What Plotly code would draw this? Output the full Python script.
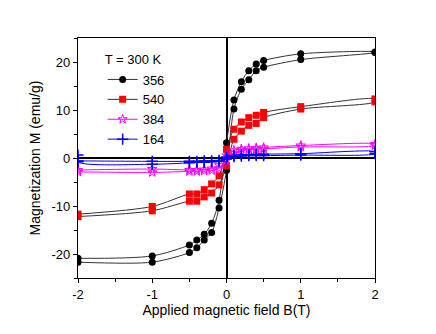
import plotly.graph_objects as go

# Field values: lower branch (ascending -2 -> 2) followed by upper branch (descending 2 -> -2)
B_up = [-2, -1, -0.5, -0.4, -0.3, -0.2, -0.1, 0, 0.1, 0.2, 0.3, 0.4, 0.5, 1, 2]
B_down = [2, 1, 0.5, 0.4, 0.3, 0.2, 0.1, 0, -0.1, -0.2, -0.3, -0.4, -0.5, -1, -2]

# 356 (black circles)
m356_up = [-21.7, -21.7, -19.7, -18.7, -17.1, -15.5, -10.4, -2.6, 10.2, 14.3, 16.3, 18.2, 18.9, 20.5, 22.0]
m356_down = [22.1, 21.7, 20.3, 19.6, 18.2, 15.9, 12.1, 3.2, -8.8, -13.6, -15.9, -17.1, -18.1, -20.4, -20.9]

# 540 (red squares)
m540_up = [-12.2, -11.0, -9.0, -9.0, -8.1, -7.3, -5.6, -1.6, 3.9, 5.6, 6.8, 7.2, 8.4, 10.2, 11.7]
m540_down = [12.3, 10.7, 9.5, 8.9, 8.4, 7.5, 6.0, 1.8, -3.7, -5.4, -6.6, -7.5, -7.5, -10.1, -11.7]

# 384 (magenta stars)
m384_up = [-2.9, -3.0, -2.8, -2.8, -2.7, -2.6, -2.2, -0.5, 1.0, 1.5, 1.7, 1.8, 1.9, 2.3, 2.6]
m384_down = [2.9, 2.6, 2.2, 2.1, 2.0, 1.9, 1.6, 0.5, -1.5, -2.2, -2.4, -2.5, -2.5, -2.3, -2.5]

# 164 (blue crosses); first value is the initial point at -2 T
b164_start = [-2]
m164_start = [0.6]
m164_up = [-0.8, -1.3, -1.0, -0.9, -0.9, -0.8, -0.7, -0.2, 0.3, 0.4, 0.5, 0.5, 0.5, 0.6, 0.9]
m164_down = [1.3, 0.9, 0.8, 0.8, 0.7, 0.7, 0.5, 0.2, -0.5, -0.6, -0.6, -0.7, -0.7, -0.7, -0.6]

x_ticks = [-2, -1, 0, 1, 2]
x_ticktext = ["-2", "-1", "0", "1", "2"]
y_ticks = [-20, -10, 0, 10, 20]
y_ticktext = ["-20", "-10", "0", "10", "20"]

FONT = "Arial, Liberation Sans, sans-serif"

fig = go.Figure()

series = [
    ("356", B_up + B_down, m356_up + m356_down, "#333333",
     dict(symbol="circle", size=7, color="black")),
    ("540", B_up + B_down, m540_up + m540_down, "#333333",
     dict(symbol="square", size=7, color="#ff0000")),
    ("384", B_up + B_down, m384_up + m384_down, "#ff00ff",
     dict(symbol="star-open", size=7, color="#ff00ff", line=dict(color="#ff00ff", width=1))),
    ("164", b164_start + B_up + B_down, m164_start + m164_up + m164_down, "#0000ff",
     dict(symbol="cross-thin", size=8, color="#0000ff", line=dict(color="#0000ff", width=1.5))),
]

for name, xs, ys, lc, mk in series:
    fig.add_trace(go.Scatter(
        x=xs, y=ys, name=name, mode="lines+markers",
        line=dict(color=lc, width=1, shape="spline", smoothing=0.8),
        marker=mk,
    ))

axis_common = dict(
    showgrid=False, showline=True, linecolor="black", linewidth=1.3,
    tickcolor="black", tickwidth=1, color="black", automargin=False,
)

fig.update_layout(
    width=428, height=326,
    margin=dict(l=70, r=61, t=30, b=56),
    paper_bgcolor="white", plot_bgcolor="white",
    font=dict(family=FONT, size=13, color="black"),
    showlegend=True,
    legend=dict(
        x=0.083, y=0.96, xanchor="left", yanchor="top",
        bgcolor="rgba(0,0,0,0)", borderwidth=0,
        font=dict(size=13, family=FONT),
        title=dict(text="T = 300 K", side="top", font=dict(size=13, family=FONT)),
        itemwidth=30, tracegroupgap=0,
    ),
    xaxis=dict(
        range=[-2, 2], tickvals=x_ticks, ticktext=x_ticktext,
        ticks="outside", ticklen=4, mirror=True,
        minor=dict(dtick=0.5, ticks="outside", ticklen=3, tickcolor="black"),
        zeroline=True, zerolinecolor="black", zerolinewidth=1.5,
        title=dict(text="Applied magnetic field B(T)", font=dict(size=14), standoff=4),
        tickfont=dict(size=13), **axis_common,
    ),
    yaxis=dict(
        range=[-25, 25], tickvals=y_ticks, ticktext=y_ticktext,
        ticks="outside", ticklen=4, mirror=True,
        minor=dict(dtick=5, ticks="outside", ticklen=3, tickcolor="black"),
        zeroline=True, zerolinecolor="black", zerolinewidth=1.5,
        title=dict(text="Magnetization M (emu/g)", font=dict(size=14), standoff=7),
        tickfont=dict(size=13), **axis_common,
    ),
    xaxis2=dict(
        overlaying="x", side="top", anchor="y", range=[-2, 2],
        tickvals=x_ticks, showticklabels=False, ticks="inside", ticklen=4,
        minor=dict(dtick=0.5, ticks="inside", ticklen=3, tickcolor="black"),
        showgrid=False, zeroline=False, showline=False, tickcolor="black",
    ),
    yaxis2=dict(
        overlaying="y", side="right", anchor="x", range=[-25, 25],
        tickvals=y_ticks, showticklabels=False, ticks="inside", ticklen=4,
        minor=dict(dtick=5, ticks="inside", ticklen=3, tickcolor="black"),
        showgrid=False, zeroline=False, showline=False, tickcolor="black",
    ),
)

fig.write_html("out.html")
